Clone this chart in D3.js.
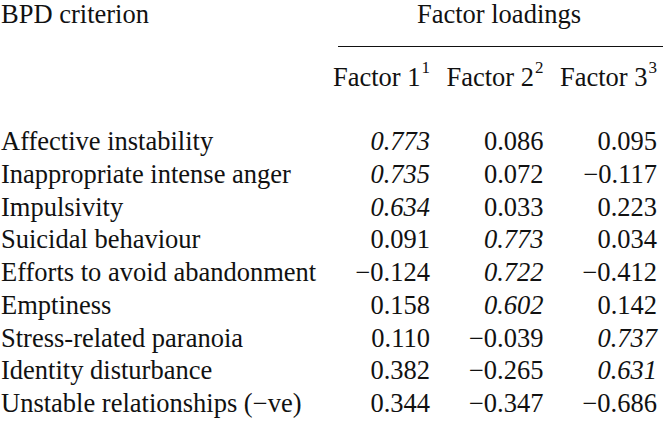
<!DOCTYPE html>
<html>
<head>
<meta charset="utf-8">
<script src="https://cdn.jsdelivr.net/npm/d3@7"></script>
<style>
  body { margin: 0; background: #fff; }
  text { font-family: "Liberation Serif", "DejaVu Serif", serif; fill: #111; }
</style>
</head>
<body>
<div id="chart"></div>
<script>
// table data
const criteria = [
  "Affective instability",
  "Inappropriate intense anger",
  "Impulsivity",
  "Suicidal behaviour",
  "Efforts to avoid abandonment",
  "Emptiness",
  "Stress-related paranoia",
  "Identity disturbance",
  "Unstable relationships (\u2212ve)"
];
const factors = ["Factor 1", "Factor 2", "Factor 3"];
const factor1 = [0.773, 0.735, 0.634, 0.091, -0.124, 0.158, 0.110, 0.382, 0.344];
const factor2 = [0.086, 0.072, 0.033, 0.773, 0.722, 0.602, -0.039, -0.265, -0.347];
const factor3 = [0.095, -0.117, 0.223, 0.034, -0.412, 0.142, 0.737, 0.631, -0.686];
// which factor each criterion loads on (printed in italics)
const primary = [0, 0, 0, 1, 1, 1, 2, 2, -1];

const width = 663, height = 425;
const fontSize = 26.5;

const svg = d3.select("#chart").append("svg")
  .attr("width", width)
  .attr("height", height);

const y = d3.scalePoint()
  .domain(d3.range(criteria.length))
  .range([141, 403]);

// right edges of the value columns
const x = d3.scalePoint()
  .domain(factors)
  .range([430, 657]);

const fmt = v => (v < 0 ? "\u2212" : "") + d3.format(".3f")(Math.abs(v));

// headers
svg.append("text")
  .attr("x", 1).attr("y", 14)
  .attr("dominant-baseline", "central")
  .attr("font-size", fontSize)
  .text("BPD criterion");

svg.append("text")
  .attr("x", 499).attr("y", 14)
  .attr("text-anchor", "middle")
  .attr("dominant-baseline", "central")
  .attr("font-size", fontSize)
  .text("Factor loadings");

svg.append("line")
  .attr("x1", 338).attr("x2", 663)
  .attr("y1", 46.5).attr("y2", 46.5)
  .attr("stroke", "#111")
  .attr("stroke-width", 1.2);

const head = svg.selectAll(".fhead")
  .data(factors)
  .enter()
  .append("text")
  .attr("class", "fhead")
  .attr("x", d => x(d))
  .attr("y", 77)
  .attr("text-anchor", "end")
  .attr("dominant-baseline", "central")
  .attr("font-size", fontSize);
head.append("tspan").text(d => d);
head.append("tspan")
  .attr("dx", 1)
  .attr("dy", -10)
  .attr("font-size", 17)
  .text((d, i) => i + 1);

// row labels
svg.selectAll(".crit")
  .data(criteria)
  .enter()
  .append("text")
  .attr("class", "crit")
  .attr("x", 1)
  .attr("y", (d, i) => y(i))
  .attr("dominant-baseline", "central")
  .attr("font-size", fontSize)
  .text(d => d);

// values
const cells = [];
[factor1, factor2, factor3].forEach((col, j) => {
  col.forEach((v, i) => cells.push({ row: i, col: j, value: v }));
});

svg.selectAll(".val")
  .data(cells)
  .enter()
  .append("text")
  .attr("class", "val")
  .attr("x", d => x(factors[d.col]))
  .attr("y", d => y(d.row))
  .attr("text-anchor", "end")
  .attr("dominant-baseline", "central")
  .attr("font-size", fontSize)
  .attr("font-style", d => primary[d.row] === d.col ? "italic" : "normal")
  .text(d => fmt(d.value));
</script>
</body>
</html>
